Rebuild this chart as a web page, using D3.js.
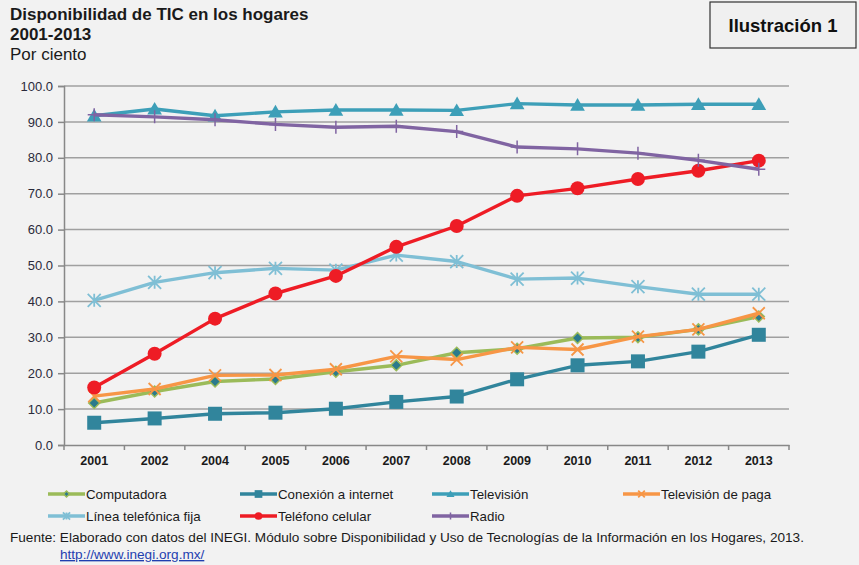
<!DOCTYPE html>
<html>
<head>
<meta charset="utf-8">
<script src="https://cdn.jsdelivr.net/npm/d3@7"></script>
<style>
  body { margin: 0; background: #f2f2f2; }
  svg { display: block; font-family: "Liberation Sans", Arial, sans-serif; }
</style>
</head>
<body>
<svg></svg>
<script>
const years = ['2001', '2002', '2004', '2005', '2006', '2007', '2008', '2009', '2010', '2011', '2012', '2013'];
const yTicks = [0, 10, 20, 30, 40, 50, 60, 70, 80, 90, 100];

const computadora = [11.7, 14.9, 17.7, 18.4, 20.4, 22.2, 25.7, 26.8, 29.8, 30.0, 32.2, 35.8];
const conexion = [6.2, 7.4, 8.7, 9.0, 10.1, 12.0, 13.5, 18.3, 22.2, 23.3, 26.0, 30.7];
const television = [91.7, 93.6, 91.7, 92.8, 93.3, 93.3, 93.2, 95.1, 94.7, 94.7, 94.9, 94.9];
const tvPaga = [13.6, 15.6, 19.4, 19.5, 21.1, 24.7, 23.8, 27.2, 26.6, 30.2, 32.2, 36.7];
const lineaFija = [40.3, 45.3, 48.0, 49.2, 48.7, 52.9, 51.1, 46.2, 46.5, 44.1, 42.0, 42.0];
const celular = [16.0, 25.4, 35.2, 42.2, 47.1, 55.2, 61.0, 69.4, 71.5, 74.1, 76.4, 79.2];
const radio = [92.0, 91.4, 90.6, 89.3, 88.5, 88.8, 87.3, 83.0, 82.5, 81.3, 79.3, 76.8];

const seriesNames = ['Computadora', 'Conexión a internet', 'Televisión', 'Televisión de paga',
  'Línea telefónica fija', 'Teléfono celular', 'Radio'];

const series = [
  { name: seriesNames[0], values: computadora, color: '#9bbb59', marker: 'diamond' },
  { name: seriesNames[1], values: conexion, color: '#31859c', marker: 'square' },
  { name: seriesNames[2], values: television, color: '#3d9fb8', marker: 'triangle' },
  { name: seriesNames[3], values: tvPaga, color: '#f79646', marker: 'x' },
  { name: seriesNames[4], values: lineaFija, color: '#7fbfd5', marker: 'star' },
  { name: seriesNames[5], values: celular, color: '#ee1c25', marker: 'circle' },
  { name: seriesNames[6], values: radio, color: '#8064a2', marker: 'plus' }
];

const width = 859, height = 565;
const plotLeft = 64, plotRight = 789, plotTop = 86, plotBottom = 445;

const svg = d3.select('svg')
    .attr('width', width)
    .attr('height', height)
    .style('background-color', '#f2f2f2');

// titles
svg.append('text').attr('x', 10).attr('y', 20)
    .attr('font-size', 17).attr('font-weight', 'bold').attr('fill', '#1a1a1a')
    .text('Disponibilidad de TIC en los hogares');
svg.append('text').attr('x', 10).attr('y', 40)
    .attr('font-size', 17).attr('font-weight', 'bold').attr('fill', '#1a1a1a')
    .text('2001-2013');
svg.append('text').attr('x', 10).attr('y', 60)
    .attr('font-size', 17).attr('fill', '#1a1a1a')
    .text('Por ciento');

svg.append('rect')
    .attr('x', 710).attr('y', 2).attr('width', 146).attr('height', 46)
    .attr('fill', '#f0f0f0').attr('stroke', '#333').attr('stroke-width', 1.2);
svg.append('text').attr('x', 783).attr('y', 32)
    .attr('text-anchor', 'middle')
    .attr('font-size', 18.5).attr('font-weight', 'bold').attr('fill', '#111')
    .text('Ilustración 1');

const x = d3.scaleBand().domain(years).range([plotLeft, plotRight]);
const y = d3.scaleLinear().domain([0, 100]).range([plotBottom, plotTop]);

// gridlines
svg.append('g')
  .selectAll('line')
  .data(yTicks.filter(d => d > 0))
  .join('line')
    .attr('x1', plotLeft).attr('x2', plotRight)
    .attr('y1', d => y(d)).attr('y2', d => y(d))
    .attr('stroke', '#a0a0a0').attr('stroke-width', 1.5);

// y axis
const yAxis = svg.append('g')
    .attr('transform', `translate(${plotLeft},0)`)
    .call(d3.axisLeft(y).tickValues(yTicks).tickFormat(d3.format('.1f')).tickSize(6).tickPadding(5));
yAxis.select('.domain').attr('stroke', '#888').attr('stroke-width', 1.5);
yAxis.selectAll('.tick line').attr('stroke', '#888').attr('stroke-width', 1.5);
yAxis.selectAll('.tick text')
    .attr('font-size', 13).attr('fill', '#2a2a3a')
    .attr('font-family', '"Liberation Sans", Arial, sans-serif');

// x axis
const xAxis = svg.append('g')
    .attr('transform', `translate(0,${plotBottom})`)
    .call(d3.axisBottom(x).tickSize(0).tickPadding(11));
xAxis.select('.domain').attr('stroke', '#888').attr('stroke-width', 1.5);
xAxis.selectAll('.tick text')
    .attr('font-size', 12.5).attr('font-weight', 'bold').attr('fill', '#1a1a1a')
    .attr('font-family', '"Liberation Sans Narrow", "Liberation Sans", Arial, sans-serif');
xAxis.selectAll('.sep')
  .data(years.concat(['end']))
  .join('line')
    .attr('class', 'sep')
    .attr('x1', (d, i) => i < years.length ? x(d) : x.range()[1])
    .attr('x2', (d, i) => i < years.length ? x(d) : x.range()[1])
    .attr('y1', 0).attr('y2', 5)
    .attr('stroke', '#888').attr('stroke-width', 1.5);

// markers
function drawMarker(g, type, color, s) {
  if (type === 'circle') {
    g.append('circle').attr('r', 7 * s).attr('fill', color);
  } else if (type === 'square') {
    g.append('rect').attr('x', -7 * s).attr('y', -7 * s)
        .attr('width', 14 * s).attr('height', 14 * s).attr('fill', color);
  } else if (type === 'triangle') {
    const h = 7 * s;
    g.append('path').attr('d', `M0,${-h}L${h * 1.05},${h * 0.8}L${-h * 1.05},${h * 0.8}Z`).attr('fill', color);
  } else if (type === 'diamond') {
    const h = 5.5 * s;
    g.append('path').attr('d', `M0,${-h}L${h},0L0,${h}L${-h},0Z`)
        .attr('fill', '#2b7a8c').attr('stroke', color).attr('stroke-width', 1.5);
  } else if (type === 'x') {
    const h = 6 * s;
    g.append('path').attr('d', `M${-h},${-h}L${h},${h}M${h},${-h}L${-h},${h}`)
        .attr('stroke', color).attr('stroke-width', 1.8);
  } else if (type === 'star') {
    const h = 6.5 * s;
    g.append('path').attr('d', `M${-h},${-h}L${h},${h}M${h},${-h}L${-h},${h}M0,${-h}L0,${h}`)
        .attr('stroke', color).attr('stroke-width', 1.8);
  } else if (type === 'plus') {
    const h = 6.5 * s;
    g.append('path').attr('d', `M0,${-h}L0,${h}M${-h},0L${h},0`)
        .attr('stroke', color).attr('stroke-width', 1.5);
  }
}

const line = d3.line()
    .x((d, i) => x(years[i]) + x.bandwidth() / 2)
    .y(d => y(d));

series.forEach(s => {
  const g = svg.append('g');
  g.append('path')
      .attr('d', line(s.values))
      .attr('fill', 'none')
      .attr('stroke', s.color)
      .attr('stroke-width', 3.4)
      .attr('stroke-linejoin', 'round');
  s.values.forEach((v, i) => {
    const m = g.append('g')
        .attr('transform', `translate(${x(years[i]) + x.bandwidth() / 2},${y(v)})`);
    drawMarker(m, s.marker, s.color, 1);
  });
});

// legend
const legendCols = [48, 240, 432, 623];
const legendRows = [494, 516];
series.forEach((s, i) => {
  const lx = legendCols[i % 4], ly = legendRows[Math.floor(i / 4)];
  const g = svg.append('g').attr('transform', `translate(${lx},${ly})`);
  g.append('line').attr('x1', 0).attr('x2', 37).attr('y1', 0).attr('y2', 0)
      .attr('stroke', s.color).attr('stroke-width', 3.5);
  const m = g.append('g').attr('transform', 'translate(18.5,0)');
  drawMarker(m, s.marker, s.color, 0.55);
  g.append('text').attr('x', 38).attr('y', 5)
      .attr('font-size', 13.3).attr('fill', '#1a1a1a')
      .text(s.name);
});

// source
svg.append('text').attr('x', 10).attr('y', 542)
    .attr('font-size', 13.6).attr('fill', '#1a1a1a')
    .text('Fuente: Elaborado con datos del INEGI. Módulo sobre Disponibilidad y Uso de Tecnologías de la Información en los Hogares, 2013.');
svg.append('text').attr('x', 60).attr('y', 559)
    .attr('font-size', 13.6).attr('fill', '#1f3fb0')
    .attr('text-decoration', 'underline')
    .text('http://www.inegi.org.mx/');
</script>
</body>
</html>
